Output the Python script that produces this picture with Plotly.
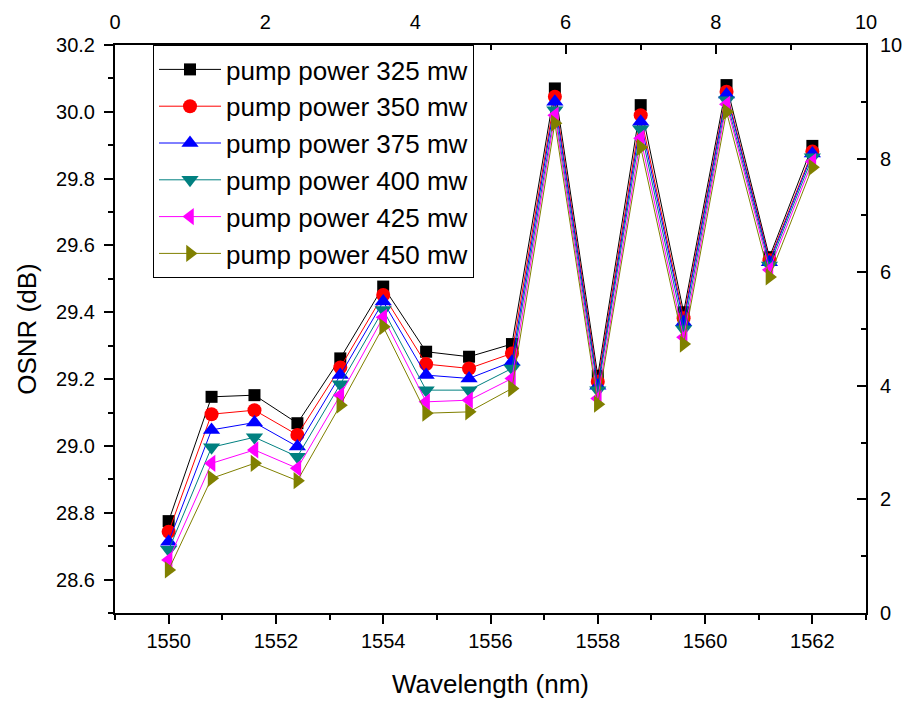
import plotly.graph_objects as go

wavelength = [1550.0, 1550.8, 1551.6, 1552.4, 1553.2, 1554.0, 1554.8, 1555.6,
              1556.4, 1557.2, 1558.0, 1558.8, 1559.6, 1560.4, 1561.2, 1562.0]

osnr_325 = [28.775, 29.147, 29.152, 29.068, 29.262, 29.477, 29.282, 29.267,
            29.305, 30.070, 29.210, 30.020, 29.400, 30.080, 29.565, 29.898]
osnr_350 = [28.743, 29.095, 29.107, 29.033, 29.235, 29.452, 29.245, 29.232,
            29.277, 30.045, 29.192, 29.990, 29.382, 30.060, 29.556, 29.881]
osnr_375 = [28.713, 29.048, 29.070, 28.998, 29.212, 29.432, 29.212, 29.202,
            29.252, 30.030, 29.180, 29.970, 29.370, 30.052, 29.550, 29.875]
osnr_400 = [28.689, 28.996, 29.026, 28.968, 29.185, 29.407, 29.167, 29.167,
            29.232, 30.005, 29.167, 29.948, 29.349, 30.035, 29.540, 29.864]
osnr_425 = [28.659, 28.948, 28.988, 28.933, 29.152, 29.385, 29.132, 29.137,
            29.202, 29.990, 29.142, 29.921, 29.325, 30.023, 29.527, 29.851]
osnr_450 = [28.629, 28.903, 28.948, 28.896, 29.122, 29.357, 29.098, 29.102,
            29.172, 29.966, 29.125, 29.894, 29.305, 30.000, 29.506, 29.834]

series_names = ["pump power 325 mw", "pump power 350 mw", "pump power 375 mw",
                "pump power 400 mw", "pump power 425 mw", "pump power 450 mw"]
series_values = [osnr_325, osnr_350, osnr_375, osnr_400, osnr_425, osnr_450]
colors = ["#000000", "#ff0000", "#0000ff", "#008080", "#ff00ff", "#808000"]
symbols = ["square", "circle", "triangle-up", "triangle-down", "triangle-left", "triangle-right"]
sizes = [12, 14, 15, 15, 15, 15]

FONT = "Arial, Liberation Sans, sans-serif"

fig = go.Figure()
for name, vals, c, s, sz in zip(series_names, series_values, colors, symbols, sizes):
    fig.add_trace(go.Scatter(
        x=wavelength, y=vals, mode="lines+markers", name=name,
        line=dict(color=c, width=1),
        marker=dict(symbol=s, size=sz, color=c, line=dict(width=0)),
    ))

# empty trace to activate the secondary (top/right) axes
fig.add_trace(go.Scatter(x=[], y=[], xaxis="x2", yaxis="y2", showlegend=False,
                         hoverinfo="skip", mode="markers"))

fig.update_layout(
    width=908, height=708,
    margin=dict(l=115, r=42, t=45, b=95, autoexpand=False),
    paper_bgcolor="white", plot_bgcolor="white",
    font=dict(family=FONT, color="black", size=20),
    showlegend=True,
    legend=dict(
        x=0.0506, y=1.0, xanchor="left", yanchor="top",
        bgcolor="white", bordercolor="black", borderwidth=1,
        font=dict(family=FONT, size=26, color="black"),
        tracegroupgap=0, itemwidth=62,
    ),
    xaxis=dict(
        range=[1549, 1563], tick0=1550, dtick=2, automargin=False,
        showline=True, linecolor="black", linewidth=2,
        ticks="outside", ticklen=9, tickwidth=2, tickcolor="black",
        minor=dict(dtick=1, ticks="outside", ticklen=5, tickwidth=2, tickcolor="black"),
        showgrid=False, zeroline=False,
        tickfont=dict(size=20),
        title=dict(text="Wavelength (nm)", font=dict(size=26), standoff=24),
    ),
    yaxis=dict(
        range=[28.5, 30.2], tick0=28.6, dtick=0.2, tickformat=".1f", automargin=False,
        showline=True, linecolor="black", linewidth=2,
        ticks="outside", ticklen=9, tickwidth=2, tickcolor="black",
        minor=dict(dtick=0.1, ticks="outside", ticklen=5, tickwidth=2, tickcolor="black"),
        showgrid=False, zeroline=False, ticklabelstandoff=5,
        tickfont=dict(size=20),
        title=dict(text="OSNR (dB)", font=dict(size=26), standoff=12),
    ),
    xaxis2=dict(
        overlaying="x", side="top", anchor="y2", range=[0, 10], tick0=0, dtick=2,
        automargin=False,
        showline=True, linecolor="black", linewidth=2,
        ticks="inside", ticklen=9, tickwidth=2, tickcolor="black",
        minor=dict(dtick=1, ticks="inside", ticklen=5, tickwidth=2, tickcolor="black"),
        showgrid=False, zeroline=False, tickfont=dict(size=20), ticklabelstandoff=6,
    ),
    yaxis2=dict(
        overlaying="y", side="right", anchor="x2", range=[0, 10], tick0=0, dtick=2,
        automargin=False,
        showline=True, linecolor="black", linewidth=2,
        ticks="inside", ticklen=9, tickwidth=2, tickcolor="black",
        minor=dict(dtick=1, ticks="inside", ticklen=5, tickwidth=2, tickcolor="black"),
        showgrid=False, zeroline=False, tickfont=dict(size=20), ticklabelstandoff=8,
    ),
)

fig.write_html("out.html")
